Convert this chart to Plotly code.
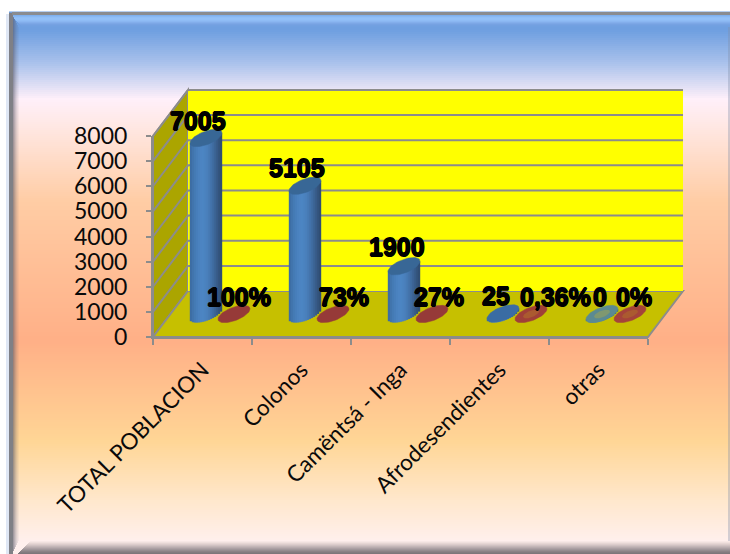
import numpy as np
import plotly.graph_objects as go

categories = ["TOTAL POBLACION", "Colonos", "Camëntsá - Inga", "Afrodesendientes", "otras"]
poblacion = [7005, 5105, 1900, 25, 0]
porcentaje = [1.0, 0.73, 0.27, 0.0036, 0.0]
etiquetas_pob = ["7005", "5105", "1900", "25", "0"]
etiquetas_pct = ["100%", "73%", "27%", "0,36%", "0%"]
y_ticks = [0, 1000, 2000, 3000, 4000, 5000, 6000, 7000, 8000]

W, H = 730, 554
X0, X1, XB = 153, 648, 686      # front left, front right, back right (px)
Y0, YT, YB = 337, 136, 91       # zero, 8000 on front, top of back wall (px)
DX, DY = 35, 46                 # depth offset (px)
PAD = 4                         # spare px round the hidden overlay axes, so wall outlines are not clipped
UX = (X1 - X0) / 5
UY = (Y0 - YT) / 8000
GRID = "#8c8c8c"


def px(x, y):
    return x / W, 1 - y / H


def depth(cat, val, d):
    return cat + d * DX / UX, val + d * DY / UY


def poly(points, **kw):
    p = "M" + " L".join(f"{a},{b}" for a, b in points) + " Z"
    return dict(type="path", path=p, **kw)


shapes = []
# page gradient
stops = [(0, (109, 158, 224)), (30, (112, 160, 225)), (62, (170, 194, 236)), (98, (255, 240, 250)),
         (125, (255, 232, 228)), (200, (255, 205, 165)), (340, (255, 176, 135)),
         (440, (255, 214, 150)), (500, (255, 232, 205)), (541, (255, 240, 238)), (554, (255, 240, 238))]
sy = [s[0] for s in stops]
for y in range(0, H, 2):
    c = [int(np.interp(y, sy, [s[1][i] for s in stops])) for i in range(3)]
    a, b = px(0, y)
    a2, b2 = px(W, y + 2.5)
    shapes.append(dict(type="rect", xref="paper", yref="paper", x0=a, x1=a2, y0=b2, y1=b,
                       fillcolor=f"rgb({c[0]},{c[1]},{c[2]})", line_width=0, layer="below"))


def band(x0, y0, x1, y1, col, opacity=1):
    a, b = px(x0, y0)
    a2, b2 = px(x1, y1)
    shapes.append(dict(type="rect", xref="paper", yref="paper", x0=a, x1=a2, y0=b2, y1=b,
                       fillcolor=col, line_width=0, layer="below", opacity=opacity))


# top bevel
for i, c in enumerate(["#7fb0ee", "#88b8f3", "#90bef7", "#93c1f8", "#93c0f8", "#8fbcf5", "#8ab6f1",
                       "#83aeeb", "#7ca7e6", "#76a2e2", "#72a0e1", "#70a0e0"]):
    x = 12 + max(i - 1, 0)
    band(x, 15 + i, W, 16 + i, c)
# bottom bevel
for i, c in enumerate(["#f8e8e6", "#f0e0de", "#e6d6d4", "#dccccc", "#d0c2c2", "#c4b6b8", "#b8acae",
                       "#aca0a4", "#a0969a", "#948c90", "#8a8286", "#827b80", "#7c767a"]):
    band(30 - i, 541 + i, W, 542 + i, c)
# left bevel
for i, op in enumerate([0.55, 0.42, 0.30, 0.2, 0.12, 0.06]):
    shapes.append(poly([px(13 + i, 27 - (5 - i) * 2), px(14 + i, 27 - (5 - i) * 2), px(14 + i, 541 + (5 - i) * 2),
                        px(13 + i, 541 + (5 - i) * 2)],
                       xref="paper", yref="paper", fillcolor="#555566", line_width=0, layer="below", opacity=op))
band(9, 13, 13, H, "#7f8086")
band(12, 12, W, 15, "#8a8c90")
band(W - 2, 27, W, 541, "#8090a8", 0.35)
# white page margin, soft shadow at the left edge
band(0, 0, W, 11.5, "#ffffff")
band(0, 0, 9, H, "#ffffff")
band(6, 14, 9, H, "#dfe7f5")

ax = dict(xref="x2", yref="y2", layer="below")
# walls
shapes.append(poly([depth(-.5, 0, 0), depth(-.5, 8000, 0), depth(-.5, 8000, 1), depth(-.5, 0, 1)],
                   fillcolor="#aba500", line=dict(color=GRID, width=2), **ax))
shapes.append(poly([depth(-.5, 0, 0), depth(-.5, 0, 1), depth(4.5, 0, 1), depth(4.5, 0, 0)],
                   fillcolor="#c6c000", line=dict(color=GRID, width=2), **ax))
shapes.append(poly([depth(-.5, 0, 1), depth(-.5, 8000, 1), depth(4.5, 8000, 1), depth(4.5, 0, 1)],
                   fillcolor="#ffff00", line_width=0, **ax))
for v in y_ticks[1:]:
    a, b = depth(-.5, v, 0)
    c, d = depth(-.5, v, 1)
    e, f = depth(4.5, v, 1)
    shapes.append(dict(type="line", x0=a, y0=b, x1=c, y1=d, line=dict(color=GRID, width=2), **ax))
    shapes.append(dict(type="line", x0=c, y0=d, x1=e, y1=f, line=dict(color=GRID, width=2), **ax))

HH = 7 / UY            # half height of the cap in value units
MID = 0.5
OFF = 14 / UX


def ellipse(cx, base, scale=1.0):
    t = np.linspace(0, 2 * np.pi, 60)
    dxp = 16 * scale * np.cos(t)
    return cx + dxp / UX, base + 0.32 * dxp / UY + HH * scale * np.sin(t)


fig = go.Figure()
# invisible trace that carries the category and value axes
fig.add_trace(go.Scatter(x=categories, y=poblacion, mode="markers", marker_opacity=0,
                         hoverinfo="skip", showlegend=False, xaxis="x", yaxis="y"))

# cylinder bodies, built from vertical strips
N = 16
body_cols = ["#3d6da3", "#4174ac", "#447ab4", "#477eba", "#4a82bf", "#4c84c2", "#4c85c3", "#4b83c0",
             "#4a80bc", "#477bb5", "#4474ac", "#406da2", "#3c6596", "#385d8a", "#34557e", "#304e74"]
cx_blue = [depth(i, 0, MID)[0] - OFF for i in range(5)]
base_blue = depth(0, 0, MID)[1]
for s in range(N):
    u = (s + 0.5) / N * 2 - 1
    dxp = u * 16
    cx = [c + dxp / UX for c in cx_blue]
    low = [base_blue + 0.32 * dxp / UY - HH * np.sqrt(1 - u * u) for _ in poblacion]
    hgt = [v + HH * np.sqrt(1 - u * u) for v in poblacion]
    fig.add_trace(go.Bar(x=cx, y=hgt, base=low, width=2.4 / UX, marker=dict(color=body_cols[s], line_width=0),
                         xaxis="x2", yaxis="y2", hoverinfo="skip", showlegend=False))

cap_blue = ["#386796", "#386796", "#386796", "#3a6ca3", "#5b8a92"]
inner_blue = [None, None, None, None, "#7f9870"]
cap_red = ["#963a38", "#963a38", "#963a38", "#a03f38", "#a5433a"]
inner_red = [None, None, None, "#ab5a30", "#ab5a30"]


def cap(cx, base, col):
    x, y = ellipse(cx, base)
    fig.add_trace(go.Scatter(x=x, y=y, mode="lines", fill="toself", fillcolor=col, line=dict(color=col, width=0.5),
                             xaxis="x2", yaxis="y2", hoverinfo="skip", showlegend=False))


def inner(cx, base, col):
    x, y = ellipse(cx, base, 0.5)
    fig.add_trace(go.Scatter(x=x, y=y, mode="lines", fill="toself", fillcolor=col, line=dict(color=col, width=0),
                             xaxis="x2", yaxis="y2", hoverinfo="skip", showlegend=False))


for i, v in enumerate(poblacion):
    b = base_blue + v
    cap(cx_blue[i], b, cap_blue[i])
    if inner_blue[i]:
        inner(cx_blue[i], b, inner_blue[i])
cx_red = [depth(i, 0, MID)[0] + OFF for i in range(5)]
for i, v in enumerate(porcentaje):
    b = base_blue + v
    cap(cx_red[i], b, cap_red[i])
    if inner_red[i]:
        inner(cx_red[i], b, inner_red[i])

# data labels, hand-placed in the reference
nudge_pob = [(-8, 17), (-8, 18), (-7, 19), (-7, 17), (-2, 17)]
nudge_pct = [(5, 17), (11, 17), (7, 17), (24, 17), (4, 17)]
annotations = []
lab_font = dict(family="Liberation Sans", size=25, color="black", weight=700,
                shadow="0.7px 0 0 #000, -0.7px 0 0 #000, 0 0.7px 0 #000, 0 -0.7px 0 #000")
for i in range(5):
    annotations.append(dict(x=cx_blue[i], y=base_blue + poblacion[i], text=etiquetas_pob[i], showarrow=False,
                            xref="x2", yref="y2", xshift=nudge_pob[i][0], yshift=nudge_pob[i][1], font=lab_font))
    annotations.append(dict(x=cx_red[i], y=base_blue + porcentaje[i], text=etiquetas_pct[i], showarrow=False,
                            xref="x2", yref="y2", xshift=nudge_pct[i][0], yshift=nudge_pct[i][1], font=lab_font))

tick_font = dict(family="Lato", size=23, color="#0a0a0a")
fig.update_layout(
    width=W, height=H, margin=dict(l=0, r=0, t=0, b=0), autosize=False,
    paper_bgcolor="white", plot_bgcolor="rgba(0,0,0,0)", showlegend=False, barmode="overlay",
    shapes=shapes, annotations=annotations,
    xaxis=dict(domain=[X0 / W, X1 / W], type="category", categoryorder="array", categoryarray=categories,
               range=[-0.5, 4.5], tickson="boundaries", ticks="outside", ticklen=6, tickwidth=2, tickcolor=GRID,
               showline=True, linecolor=GRID, linewidth=2, showgrid=False, tickangle=-45, automargin=False,
               tickfont=dict(family="Lato", size=22.5, color="#0a0a0a"), ticklabelstandoff=9, anchor="y", fixedrange=True),
    yaxis=dict(domain=[1 - Y0 / H, 1 - YT / H], range=[0, 8000], tickvals=y_ticks, ticks="outside", ticklen=5,
               tickwidth=2, tickcolor=GRID, showline=True, linecolor=GRID, linewidth=2, showgrid=False, automargin=False,
               zeroline=False, tickfont=tick_font, ticklabelstandoff=14, anchor="x", fixedrange=True),
    xaxis2=dict(domain=[(X0 - PAD) / W, (XB + PAD) / W], range=[-.5 - PAD / UX, -.5 + (XB + PAD - X0) / UX],
                visible=False, anchor="y2", fixedrange=True, automargin=False),
    yaxis2=dict(domain=[1 - (Y0 + PAD) / H, 1 - (YB - PAD) / H], range=[-PAD / UY, (Y0 - YB + PAD) / UY],
                visible=False, anchor="x2", fixedrange=True, automargin=False),
)
fig.write_html("out.html", config=dict(displayModeBar=False),
               post_script="document.body.style.margin='0';document.documentElement.style.overflow='hidden';")
